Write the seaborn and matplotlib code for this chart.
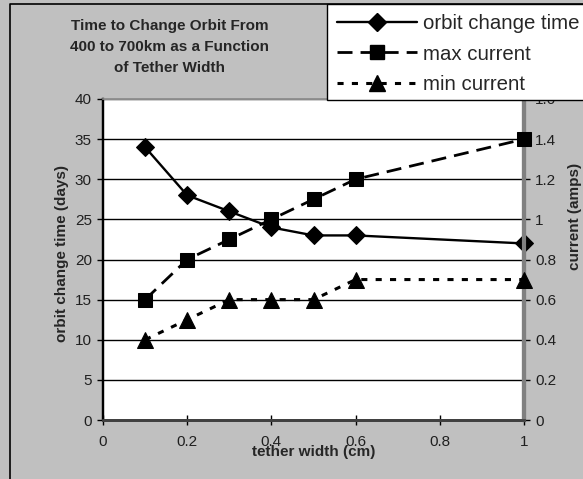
import matplotlib
matplotlib.use('Agg')
import matplotlib.pyplot as plt
import seaborn as sns
import pandas as pd
from matplotlib.lines import Line2D
from matplotlib.patches import Rectangle

# ---- data ----
tether_width = [0.1, 0.2, 0.3, 0.4, 0.5, 0.6, 1.0]
orbit_change_time = [34, 28, 26, 24, 23, 23, 22]
max_current = [0.6, 0.8, 0.9, 1.0, 1.1, 1.2, 1.4]
min_current = [0.4, 0.5, 0.6, 0.6, 0.6, 0.7, 0.7]
x_ticks = [0, 0.2, 0.4, 0.6, 0.8, 1]
x_tick_labels = ["0", "0.2", "0.4", "0.6", "0.8", "1"]
left_ticks = [0, 5, 10, 15, 20, 25, 30, 35, 40]
right_ticks = [0, 0.2, 0.4, 0.6, 0.8, 1.0, 1.2, 1.4, 1.6]
right_tick_labels = ["0", "0.2", "0.4", "0.6", "0.8", "1", "1.2", "1.4", "1.6"]
series_names = ["orbit change time", "max current", "min current"]
title_text = "Time to Change Orbit From\n400 to 700km as a Function\nof Tether Width"

df = pd.DataFrame({"w": tether_width, "t": orbit_change_time,
                   "mx": max_current, "mn": min_current})

sns.set_style("white")
plt.rcParams['font.family'] = ['Liberation Sans', 'DejaVu Sans']

W, H = 583, 479
fig = plt.figure(figsize=(W / 100, H / 100), dpi=100)
fig.patch.set_facecolor('#C0C0C0')

ax = fig.add_axes([103 / W, 1 - 420 / H, (524 - 103) / W, (420 - 99) / H])
ax.set_facecolor('white')
ax2 = ax.twinx()

lw = 1.7
dash_max = (0, (5.4, 2.9))
dash_min = (0, (2.0, 2.7))
sns.lineplot(data=df, x="w", y="t", ax=ax, color='black', lw=lw, marker='D',
             markersize=9, markeredgecolor='black', markerfacecolor='black',
             clip_on=False, zorder=5)
sns.lineplot(data=df, x="w", y="mx", ax=ax2, color='black', lw=2.0,
             marker='s', markersize=10, markeredgecolor='black',
             markerfacecolor='black', clip_on=False, zorder=5)
sns.lineplot(data=df, x="w", y="mn", ax=ax2, color='black', lw=2.2,
             marker='^', markersize=11, markeredgecolor='black',
             markerfacecolor='black', clip_on=False, zorder=5)
ax2.lines[0].set_linestyle(dash_max)
ax2.lines[1].set_linestyle(dash_min)

ax.set_xlim(0, 1)
ax.set_ylim(0, 40)
ax2.set_ylim(0, 1.6)
ax.set_xticks(x_ticks)
ax.set_xticklabels(x_tick_labels)
ax.set_yticks(left_ticks)
ax2.set_yticks(right_ticks)
ax2.set_yticklabels(right_tick_labels)
ax.set_xlabel("")
ax.set_ylabel("")
ax2.set_ylabel("")

ax.yaxis.grid(True, color='black', lw=1.0)
ax.set_axisbelow(True)
ax.xaxis.grid(False)

for a in (ax, ax2):
    for s in a.spines.values():
        s.set_visible(True)
    a.spines['left'].set_color('black')
    a.spines['left'].set_linewidth(1.6)
    a.spines['bottom'].set_color('#404040')
    a.spines['bottom'].set_linewidth(2.0)
    a.spines['top'].set_color('#909090')
    a.spines['top'].set_linewidth(1.2)
    a.spines['right'].set_color('#808080')
    a.spines['right'].set_linewidth(3.0)

ax.tick_params(axis='y', which='both', left=True, direction='out', length=4,
               width=1, color='black', labelsize=11, pad=4, labelcolor='#202020')
ax.tick_params(axis='x', which='both', bottom=True, direction='inout', length=7,
               width=1, color='black', labelsize=11, pad=7, labelcolor='#202020')
ax2.tick_params(axis='y', which='both', right=True, direction='out', length=4,
                width=1, color='black', labelsize=11, pad=4, labelcolor='#202020')

fig.text(170 / W, 1 - 47 / H, title_text, ha='center', va='center',
         fontsize=11, fontweight='bold', linespacing=1.68)
fig.text(62 / W, 1 - 253 / H, "orbit change time (days)", rotation=90,
         ha='center', va='center', fontsize=11, fontweight='bold')
fig.text(575 / W, 1 - 216 / H, "current (amps)", rotation=90,
         ha='center', va='center', fontsize=11, fontweight='bold')
fig.text(314 / W, 1 - 452 / H, "tether width (cm)", ha='center', va='center',
         fontsize=11, fontweight='bold')

# outer border of chart area (left and top edges visible)
fig.lines.append(Line2D([10 / W, 10 / W, 1.05], [-0.05, 1 - 4 / H, 1 - 4 / H],
                        transform=fig.transFigure, color='black', lw=1.2,
                        zorder=0))

# legend box
fig.patches.append(Rectangle((327 / W, 1 - 100 / H), 0.5, 100 / H - 4 / H,
                             transform=fig.transFigure, facecolor='white',
                             edgecolor='black', lw=1.0, zorder=19))

handles = [
    Line2D([], [], color='black', lw=lw, marker='D', markersize=9),
    Line2D([], [], color='black', lw=2.0, marker='s', markersize=10,
           linestyle=dash_max),
    Line2D([], [], color='black', lw=2.2, marker='^', markersize=11,
           linestyle=dash_min),
]
leg = fig.legend(handles, series_names, loc='center left',
                 bbox_to_anchor=(337 / W, 1 - 54 / H),
                 frameon=False, fontsize=14.7, handlelength=3.9,
                 handletextpad=0.3, labelspacing=0.55, borderpad=0,
                 borderaxespad=0)
leg.set_zorder(20)

fig.savefig('out.png', dpi=100, facecolor=fig.get_facecolor())
